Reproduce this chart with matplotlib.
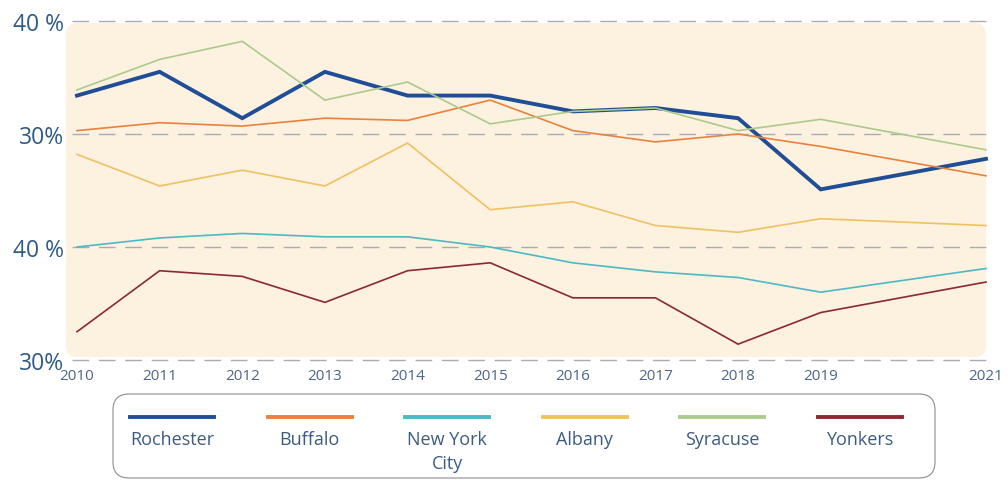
import numpy as np
import matplotlib

matplotlib.use("Agg")

import matplotlib.pyplot as plt
from matplotlib.patches import FancyBboxPatch
from matplotlib.lines import Line2D

# data (axis units 0..30)
years = [2010, 2011, 2012, 2013, 2014, 2015, 2016, 2017, 2018, 2019, 2021]
year_labels = ["2010", "2011", "2012", "2013", "2014", "2015", "2016", "2017", "2018", "2019", "2021"]

rochester = [23.4, 25.5, 21.4, 25.5, 23.4, 23.4, 22.0, 22.3, 21.4, 15.1, 17.8]
buffalo = [20.3, 21.0, 20.7, 21.4, 21.2, 23.0, 20.3, 19.3, 20.0, 18.9, 16.3]
new_york = [10.0, 10.8, 11.2, 10.9, 10.9, 10.0, 8.6, 7.8, 7.3, 6.0, 8.1]
albany = [18.2, 15.4, 16.8, 15.4, 19.2, 13.3, 14.0, 11.9, 11.3, 12.5, 11.9]
syracuse = [23.9, 26.6, 28.2, 23.0, 24.6, 20.9, 22.0, 22.3, 20.3, 21.3, 18.6]
yonkers = [2.5, 7.9, 7.4, 5.1, 7.9, 8.6, 5.5, 5.5, 1.4, 4.2, 6.9]

series_names = ["Rochester", "Buffalo", "New York\nCity", "Albany", "Syracuse", "Yonkers"]
series_values = [rochester, buffalo, new_york, albany, syracuse, yonkers]
series_colors = ["#1f4e96", "#e8823c", "#4cb9c4", "#eec263", "#aacb8b", "#8a2a30"]
series_widths = [2.8, 1.2, 1.2, 1.2, 1.2, 1.2]

y_ticks = [0, 10, 20, 30]
y_labels = ["30%", "40 %", "30%", "40 %"]

W, H = 1008, 481
fig = plt.figure(figsize=(W / 100, H / 100), dpi=100)

# main axes, placed in pixel terms
left, right, top, bottom = 72, 986, 22, 361
ax = fig.add_axes([left / W, 1 - bottom / H, (right - left) / W, (bottom - top) / H])

ax.set_xlim(2010 - 5 / 82.6, 2021)
ax.set_ylim(0, 30)

# cream rounded background
bg = FancyBboxPatch((-0.0066, 0.009), 1.0066, 0.985,
                    boxstyle="round,pad=0,rounding_size=0.012",
                    transform=ax.transAxes, facecolor="#fdf1df",
                    edgecolor="none", zorder=0, clip_on=False,
                    mutation_aspect=(right - left) / (bottom - top))
ax.add_patch(bg)

for yt in y_ticks:
    ax.axhline(yt, color="#aaaab8", lw=1.0, dashes=(12, 7), zorder=1, clip_on=False)

for vals, col, lw in zip(series_values, series_colors, series_widths):
    ax.plot(years, vals, color=col, lw=lw, zorder=3, clip_on=False,
            solid_joinstyle="miter")

for s in ax.spines.values():
    s.set_visible(False)

ax.set_yticks(y_ticks)
ax.set_yticklabels(y_labels, fontsize=16.5, color="#2e5a87", family=["Open Sans", "DejaVu Sans"])
ax.set_xticks(years)
ax.set_xticklabels(year_labels, fontsize=11, color="#4d6585",
                   family=["Open Sans", "DejaVu Sans"])
ax.tick_params(length=0)
ax.tick_params(axis="y", pad=6)
ax.tick_params(axis="x", pad=6)
ax.set_facecolor("none")

# legend drawn by hand in pixel coordinates
lax = fig.add_axes([0, 0, 1, 1])
lax.set_xlim(0, W)
lax.set_ylim(H, 0)
lax.axis("off")
box = FancyBboxPatch((113, 395), 822, 84, boxstyle="round,pad=0,rounding_size=16",
                     facecolor="white", edgecolor="#8c8c8c", lw=0.8)
lax.add_patch(box)

starts = np.linspace(130, 818, len(series_names))
for x0, name, col in zip(starts, series_names, series_colors):
    lax.add_line(Line2D([x0, x0 + 84], [418, 418], color=col, lw=2.8))
    lax.text(x0 + 42, 431, name, ha="center", va="top", fontsize=13,
             color="#3d5b82", linespacing=1.4,
             family=["Open Sans", "DejaVu Sans"])

fig.savefig("out.png", dpi=100)
